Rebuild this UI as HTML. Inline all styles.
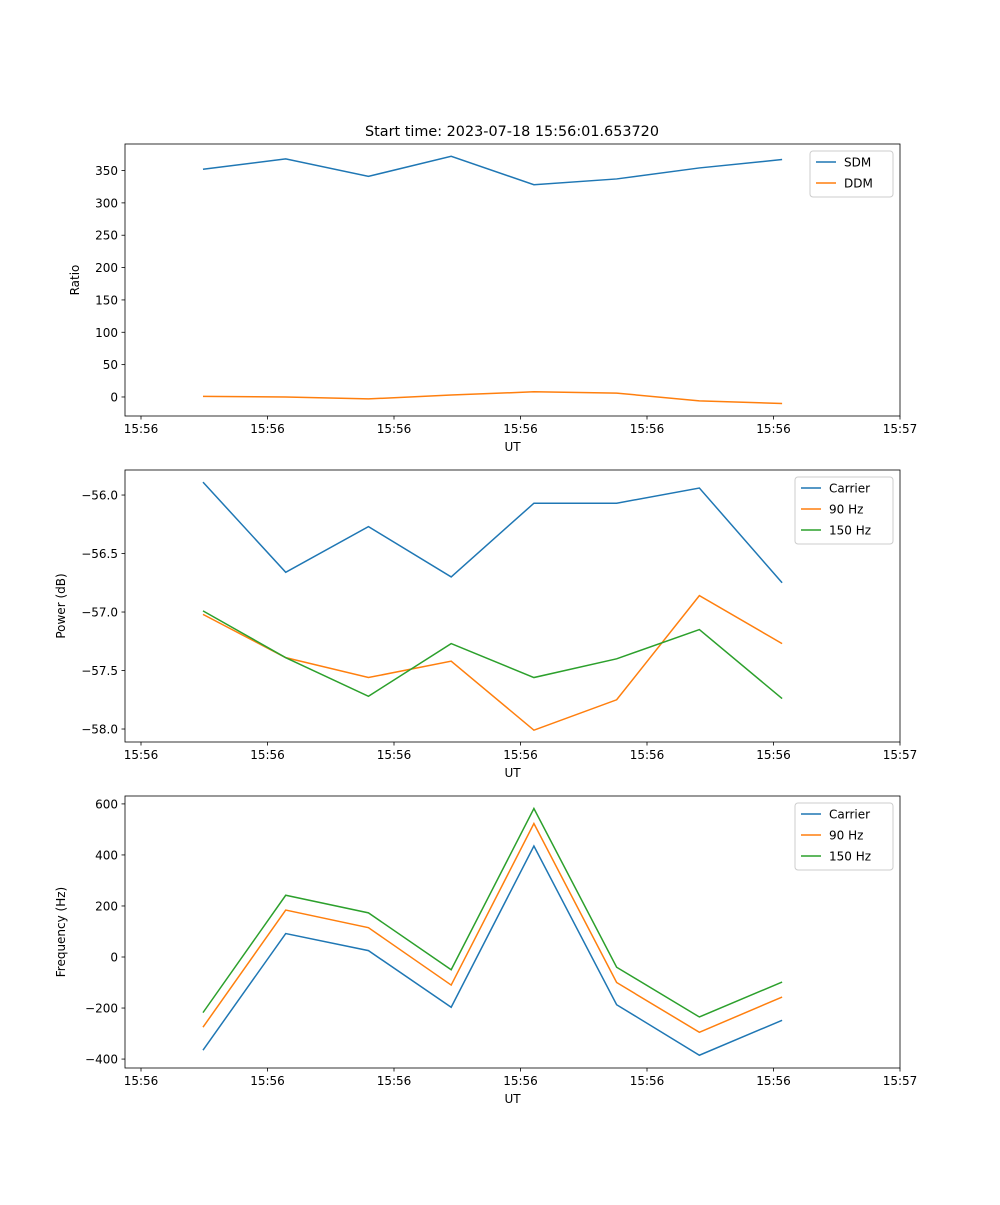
<!DOCTYPE html>
<html><head><meta charset="utf-8"><style>
body{margin:0;background:#fff;font-family:"Liberation Sans","DejaVu Sans",sans-serif}
svg text{font-family:"DejaVu Sans","Liberation Sans",sans-serif;font-size:12px;fill:#000}
</style></head><body>
<svg id="fig" width="1000" height="1200" xmlns="http://www.w3.org/2000/svg">
<text x="512" y="136" text-anchor="middle" style="font-size:14.4px">Start time: 2023-07-18 15:56:01.653720</text>
</svg>
<script>
const times=[4.9,11.44,17.98,24.52,31.06,37.6,44.14,50.68];
const xTickVals=[0,10,20,30,40,50,60];
const xTickLabels=["15:56","15:56","15:56","15:56","15:56","15:56","15:57"];
const sdm=[352,368,341,372,328,337,354,367];
const ddm=[1,0,-3,3,8,6,-6,-10];
const pwrCarrier=[-55.89,-56.66,-56.27,-56.70,-56.07,-56.07,-55.94,-56.75];
const pwr90=[-57.02,-57.39,-57.56,-57.42,-58.01,-57.75,-56.86,-57.27];
const pwr150=[-56.99,-57.39,-57.72,-57.27,-57.56,-57.40,-57.15,-57.74];
const frqCarrier=[-365,92,25,-197,435,-187,-385,-248];
const frq90=[-275,184,115,-110,523,-100,-295,-157];
const frq150=[-218,242,173,-50,582,-40,-235,-98];
const ticks1=[0,50,100,150,200,250,300,350];
const ticks2=[-58.0,-57.5,-57.0,-56.5,-56.0];
const ticks3=[-400,-200,0,200,400,600];

const NS="http://www.w3.org/2000/svg";
const svg=document.getElementById('fig');
function el(tag,attrs,parent){const e=document.createElementNS(NS,tag);for(const k in attrs)e.setAttribute(k,attrs[k]);(parent||svg).appendChild(e);return e;}
const L=125,R=900,XMIN=-1.265,XMAX=60.0;
const xs=t=>L+(t-XMIN)/(XMAX-XMIN)*(R-L);
const colors=["#1f77b4","#ff7f0e","#2ca02c"];
function panel(name,top,ymin,ymax,yticks,fmt,ylabel,series,names,legW){
  const bot=top+272;
  const ys=v=>bot-(v-ymin)/(ymax-ymin)*(bot-top);
  const g=el('g',{});
  
  
  series.forEach((s,i)=>{
    const p=el('polyline',{points:s.map((v,j)=>xs(times[j])+','+ys(v)).join(' '),fill:'none',stroke:colors[i],'stroke-width':1.5},g);
    
    
  });
  const fr=el('rect',{x:L,y:top,width:R-L,height:bot-top,fill:'none',stroke:'#000','stroke-width':0.8},g);
  
  
  xTickVals.forEach((t,i)=>{const x=xs(t);el('line',{x1:x,x2:x,y1:bot,y2:bot+3.5,stroke:'#000','stroke-width':0.8},g);
    const tx=el('text',{x:x,y:bot+17,'text-anchor':'middle'},g);tx.textContent=xTickLabels[i];
    
    });
  yticks.forEach(v=>{const y=ys(v);el('line',{x1:L,x2:L-3.5,y1:y,y2:y,stroke:'#000','stroke-width':0.8},g);
    const tx=el('text',{x:L-7,y:y+4.5,'text-anchor':'end'},g);tx.textContent=fmt(v);
    
    });
  const xl=el('text',{x:(L+R)/2,y:bot+35,'text-anchor':'middle'},g);xl.textContent='UT';
  
  
  const yx=ylabel==='Ratio'?79:65;
  const yl=el('text',{x:yx,y:(top+bot)/2,'text-anchor':'middle',transform:`rotate(-90 ${yx} ${(top+bot)/2})`},g);yl.textContent=ylabel;
  
  
  const lx=R-7-legW,ly=top+7,lh=4+names.length*21;
  const lg=el('g',{},g);
  
  
  el('rect',{x:lx,y:ly,width:legW,height:lh,rx:3,fill:'#fff','fill-opacity':0.8,stroke:'#ccc'},lg);
  names.forEach((n,i)=>{const y=ly+11+i*21;
    el('line',{x1:lx+6,x2:lx+26,y1:y,y2:y,stroke:colors[i],'stroke-width':1.5},lg);
    const t=el('text',{x:lx+34,y:y+4.5},lg);t.textContent=n;
    
    });
}
panel('ratio',144,-29.4,391,ticks1,v=>String(v),'Ratio',[sdm,ddm],['SDM','DDM'],83);
panel('power',470,-58.111,-55.786,ticks2,v=>'\u2212'+Math.abs(v).toFixed(1),'Power (dB)',[pwrCarrier,pwr90,pwr150],['Carrier','90 Hz','150 Hz'],98);
panel('frequency',796,-435,631,ticks3,v=>v<0?'\u2212'+Math.abs(v):String(v),'Frequency (Hz)',[frqCarrier,frq90,frq150],['Carrier','90 Hz','150 Hz'],98);
</script>
</body></html>
